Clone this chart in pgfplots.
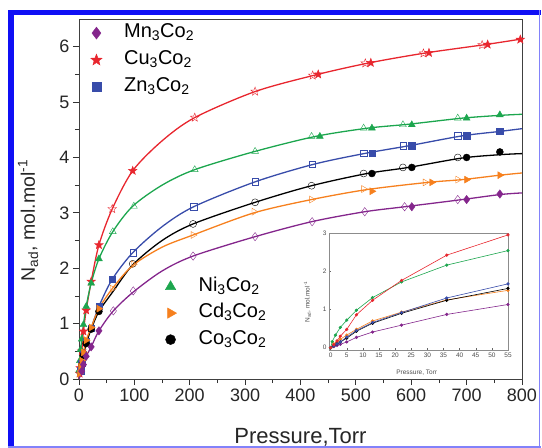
\documentclass[border=0pt]{standalone}
\usepackage{pgfplots}
\pgfplotsset{compat=1.18}
\usepackage{fontspec}
\setmainfont{Liberation Sans}
\definecolor{cred}{RGB}{232,38,46}
\definecolor{cgreen}{RGB}{28,166,78}
\definecolor{cblue}{RGB}{56,76,170}
\definecolor{corange}{RGB}{246,128,30}
\definecolor{cpurple}{RGB}{132,38,140}
\definecolor{cborder}{RGB}{15,15,245}
\definecolor{cborderl}{RGB}{130,130,250}

\pgfdeclareplotmark{fstar}{%
  \pgfpathmoveto{\pgfpointpolar{90}{\pgfplotmarksize}}%
  \pgfpathlineto{\pgfpointpolar{126}{0.42\pgfplotmarksize}}%
  \pgfpathlineto{\pgfpointpolar{162}{\pgfplotmarksize}}%
  \pgfpathlineto{\pgfpointpolar{198}{0.42\pgfplotmarksize}}%
  \pgfpathlineto{\pgfpointpolar{234}{\pgfplotmarksize}}%
  \pgfpathlineto{\pgfpointpolar{270}{0.42\pgfplotmarksize}}%
  \pgfpathlineto{\pgfpointpolar{306}{\pgfplotmarksize}}%
  \pgfpathlineto{\pgfpointpolar{342}{0.42\pgfplotmarksize}}%
  \pgfpathlineto{\pgfpointpolar{18}{\pgfplotmarksize}}%
  \pgfpathlineto{\pgfpointpolar{54}{0.42\pgfplotmarksize}}%
  \pgfpathclose\pgfusepathqfillstroke}
\pgfdeclareplotmark{ostar}{%
  \pgfpathmoveto{\pgfpointpolar{90}{\pgfplotmarksize}}%
  \pgfpathlineto{\pgfpointpolar{126}{0.42\pgfplotmarksize}}%
  \pgfpathlineto{\pgfpointpolar{162}{\pgfplotmarksize}}%
  \pgfpathlineto{\pgfpointpolar{198}{0.42\pgfplotmarksize}}%
  \pgfpathlineto{\pgfpointpolar{234}{\pgfplotmarksize}}%
  \pgfpathlineto{\pgfpointpolar{270}{0.42\pgfplotmarksize}}%
  \pgfpathlineto{\pgfpointpolar{306}{\pgfplotmarksize}}%
  \pgfpathlineto{\pgfpointpolar{342}{0.42\pgfplotmarksize}}%
  \pgfpathlineto{\pgfpointpolar{18}{\pgfplotmarksize}}%
  \pgfpathlineto{\pgfpointpolar{54}{0.42\pgfplotmarksize}}%
  \pgfpathclose\pgfusepathqstroke}

\pgfplotsset{
  fitline/.style={smooth, no marks, line width=1.3pt},
  leg/.style={
    legend style={draw=none, fill=none, inner sep=0pt, outer sep=0pt,
      font=\fontsize{20}{22}\selectfont,
      nodes={text height=14pt, text depth=5pt, inner sep=0pt},
      column sep=22pt,
      cells={anchor=west}},
  },
}

\begin{document}
\begin{tikzpicture}
\path[use as bounding box] (0pt,0pt) rectangle (542pt,448pt);

% ===== main axis =====
\begin{axis}[
  at={(79pt,69pt)}, anchor=south west, width=443pt, height=360pt, scale only axis,
  xmin=0, xmax=800, ymin=0, ymax=6.5,
  xtick={0,100,...,800}, ytick={0,1,...,6},
  minor x tick num=1, minor y tick num=1,
  tick align=outside, tick pos=left,
  major tick length=6pt, minor tick length=4pt,
  every tick/.style={black!80, line width=0.8pt},
  axis line style={line width=0.8pt, black!75},
  /pgf/number format/assume math mode=true,
  tick label style={font=\fontsize{18}{20}\selectfont, black!85},
  xlabel={Pressure,Torr},
  ylabel={N\textsubscript{ad}, mol.mol\textsuperscript{-1}},
  xlabel style={font=\fontsize{22}{24}\selectfont, black!85, at={(axis description cs:0.5,-0.162)}, anchor=center},
  ylabel style={font=\fontsize{19.5}{22}\selectfont, black!85, at={(axis description cs:-0.115,0.44)}, anchor=center},
  clip=false,
  leg,
  legend style={at={(axis description cs:0.0265,0.9873)}, anchor=north west, row sep=8pt},
]
% --- fitted lines ---
\addplot[fitline, cred, forget plot] coordinates {(0,0)(2,0.2)(5,0.5)(8,0.86)(13,1.24)(22,1.76)(36,2.42)(60,3.07)(97,3.76)(150,4.3)(209,4.72)(318,5.19)(427,5.49)(525,5.71)(628,5.89)(735,6.04)(800,6.14)};
\addplot[fitline, cgreen, forget plot] coordinates {(0,0)(0.5,0.16)(1.5,0.33)(3,0.53)(5,0.72)(8,0.98)(13,1.31)(22,1.73)(36,2.17)(61,2.66)(97,3.12)(150,3.5)(209,3.78)(318,4.11)(427,4.38)(522,4.53)(595,4.6)(692,4.71)(760,4.76)(800,4.78)};
\addplot[fitline, cblue, forget plot] coordinates {(0,0)(3,0.15)(5,0.28)(8,0.45)(13,0.67)(22,0.92)(36,1.31)(60,1.8)(97,2.28)(150,2.75)(207,3.11)(318,3.56)(425,3.88)(520,4.08)(595,4.21)(692,4.39)(760,4.47)(800,4.52)};
\addplot[fitline, black, forget plot] coordinates {(0,0)(5,0.25)(8,0.43)(13,0.64)(22,0.9)(36,1.22)(60,1.56)(97,2.06)(150,2.5)(206,2.8)(318,3.19)(420,3.49)(520,3.71)(595,3.82)(692,3.99)(760,4.05)(800,4.07)};
\addplot[fitline, corange, forget plot] coordinates {(0,0)(1,0.1)(3,0.22)(5,0.33)(8,0.48)(13,0.7)(22,0.93)(36,1.27)(60,1.63)(97,2.05)(150,2.38)(206,2.6)(316,3.0)(420,3.24)(520,3.42)(630,3.55)(692,3.6)(760,3.68)(800,3.72)};
\addplot[fitline, cpurple, forget plot] coordinates {(0,0)(5,0.14)(8,0.26)(13,0.41)(22,0.58)(36,0.87)(62,1.23)(98,1.57)(150,1.95)(206,2.22)(318,2.57)(420,2.84)(516,3.02)(588,3.11)(692,3.24)(760,3.33)(800,3.36)};
% --- filled markers (adsorption) ---
\addplot[only marks, mark=fstar, mark size=4.5pt, cred, forget plot] coordinates {(1,0.1)(2,0.2)(5,0.5)(8,0.86)(13,1.24)(22,1.76)(36,2.42)(97,3.76)(432,5.5)(527,5.71)(632,5.89)(738,6.04)(797,6.13)};
\addplot[only marks, mark=triangle*, mark size=4pt, cgreen, forget plot] coordinates {(0.5,0.16)(1.5,0.33)(3,0.53)(5,0.72)(8,0.98)(13,1.31)(22,1.73)(36,2.17)(435,4.38)(529,4.53)(601,4.59)(700,4.71)(760,4.77)};
\addplot[only marks, mark=square*, mark size=3.2pt, cblue, forget plot] coordinates {(3,0.15)(5,0.28)(8,0.45)(13,0.67)(22,0.92)(36,1.31)(60,1.8)(529,4.08)(601,4.21)(700,4.39)(760,4.47)};
\addplot[only marks, mark=*, mark size=3.5pt, black, forget plot] coordinates {(5,0.25)(8,0.43)(13,0.64)(22,0.9)(36,1.22)(529,3.71)(601,3.82)(700,4.0)(760,4.1)};
\addplot[only marks, mark=triangle*, mark size=4pt, mark options={rotate=-90}, corange, forget plot] coordinates {(1,0.1)(3,0.22)(5,0.33)(8,0.48)(13,0.7)(22,0.93)(36,1.27)(529,3.39)(637,3.55)(700,3.6)(760,3.68)};
\addplot[only marks, mark=diamond*, mark size=4.2pt, cpurple, forget plot] coordinates {(5,0.14)(8,0.26)(13,0.41)(22,0.58)(36,0.87)(601,3.11)(700,3.24)(760,3.34)};
% --- open markers (desorption) ---
\addplot[only marks, mark=ostar, mark size=4.5pt, cred, forget plot] coordinates {(60,3.07)(209,4.72)(318,5.19)(422,5.48)(517,5.7)(622,5.88)(728,6.03)};
\addplot[only marks, mark=triangle, mark size=4pt, cgreen, forget plot] coordinates {(61,2.66)(99,3.12)(209,3.78)(318,4.11)(420,4.38)(514,4.53)(585,4.59)(684,4.71)};
\addplot[only marks, mark=square, mark size=3.2pt, cblue, forget plot] coordinates {(98,2.28)(207,3.11)(318,3.56)(421,3.88)(514,4.08)(585,4.21)(684,4.39)};
\addplot[only marks, mark=o, mark size=3.5pt, black, forget plot] coordinates {(97,2.08)(206,2.8)(318,3.19)(420,3.49)(514,3.71)(585,3.82)(684,4.0)};
\addplot[only marks, mark=triangle, mark size=4pt, mark options={rotate=-90}, corange, forget plot] coordinates {(60,1.63)(98,2.07)(206,2.6)(316,3.02)(420,3.24)(514,3.43)(625,3.55)(684,3.6)};
\addplot[only marks, mark=diamond, mark size=4.2pt, cpurple, forget plot] coordinates {(62,1.23)(98,1.59)(206,2.22)(318,2.57)(421,2.84)(516,3.02)(588,3.11)(684,3.24)};
% --- legend 1 ---
\addlegendimage{only marks, mark=diamond*, mark size=6pt, cpurple}
\addlegendentry{Mn\textsubscript{3}Co\textsubscript{2}}
\addlegendimage{only marks, mark=fstar, mark size=6pt, cred}
\addlegendentry{Cu\textsubscript{3}Co\textsubscript{2}}
\addlegendimage{only marks, mark=square*, mark size=4.5pt, cblue}
\addlegendentry{Zn\textsubscript{3}Co\textsubscript{2}}
\end{axis}

% ===== legend 2 =====
\begin{axis}[
  at={(79pt,69pt)}, anchor=south west, width=443pt, height=360pt, scale only axis,
  xmin=0, xmax=800, ymin=0, ymax=6.5, hide axis,
  leg,
  legend style={at={(axis description cs:0.195,0.283)}, anchor=north west, row sep=7.5pt},
]
\addlegendimage{only marks, mark=triangle*, mark size=6pt, cgreen}
\addlegendentry{Ni\textsubscript{3}Co\textsubscript{2}}
\addlegendimage{only marks, mark=triangle*, mark size=6pt, mark options={rotate=-90}, corange}
\addlegendentry{Cd\textsubscript{3}Co\textsubscript{2}}
\addlegendimage{only marks, mark=*, mark size=5pt, black}
\addlegendentry{Co\textsubscript{3}Co\textsubscript{2}}
\end{axis}

% ===== inset =====
\begin{axis}[
  at={(329pt,98pt)}, anchor=south west, width=179pt, height=117pt, scale only axis,
  xmin=-0.5, xmax=55, ymin=-0.06, ymax=3,
  xtick={0,5,...,55}, ytick={0,1,2,3},
  minor y tick num=1,
  tick align=inside, tick pos=left,
  major tick length=2pt, minor tick length=1.2pt,
  every tick/.style={black!60, line width=0.4pt},
  axis line style={line width=0.5pt, black!45},
  axis background/.style={fill=white},
  /pgf/number format/assume math mode=true,
  tick label style={font=\fontsize{6.5}{7}\selectfont, black!70},
  xticklabel style={yshift=1pt},
  yticklabel style={xshift=1pt},
  xlabel={Pressure, Torr},
  ylabel={N\textsubscript{ad}, mol.mol\textsuperscript{-1}},
  label style={font=\fontsize{6.5}{7}\selectfont, black!70},
  xlabel style={at={(axis description cs:0.49,-0.19)}, anchor=center},
  ylabel style={at={(axis description cs:-0.12,0.41)}, anchor=center},
  every axis plot/.append style={line width=0.6pt, mark=*, mark size=1.3pt},
]
\addplot[cpurple] coordinates {(0,0)(1,0.03)(2,0.06)(3,0.09)(5,0.15)(8,0.27)(13,0.41)(22,0.59)(36,0.87)(55,1.13)};
\addplot[corange] coordinates {(0,0)(1,0.1)(2,0.16)(3,0.22)(5,0.33)(8,0.48)(13,0.7)(22,0.93)(36,1.25)(55,1.5)};
\addplot[black] coordinates {(0,0)(1,0.05)(2,0.1)(3,0.15)(5,0.25)(8,0.43)(13,0.64)(22,0.9)(36,1.24)(55,1.55)};
\addplot[cblue] coordinates {(0,0)(1,0.05)(2,0.1)(3,0.15)(5,0.28)(8,0.45)(13,0.66)(22,0.92)(36,1.3)(55,1.67)};
\addplot[cgreen] coordinates {(0,0)(0.5,0.16)(1.5,0.33)(3,0.53)(5,0.72)(8,0.98)(13,1.31)(22,1.72)(36,2.16)(55,2.54)};
\addplot[cred] coordinates {(0,0)(1,0.08)(2,0.18)(3,0.3)(5,0.48)(8,0.86)(13,1.24)(22,1.76)(36,2.42)(55,2.95)};
\end{axis}

% ===== outer border =====
\fill[cborder] (8pt,1pt) rectangle (14pt,438pt);
\fill[cborder] (8pt,433pt) rectangle (541pt,438pt);
\draw[cborderl, line width=1.5pt] (539.5pt,1pt) -- (539.5pt,438pt);
\draw[cborderl, line width=1.5pt] (8pt,1.2pt) -- (541pt,1.2pt);
\end{tikzpicture}
\end{document}
